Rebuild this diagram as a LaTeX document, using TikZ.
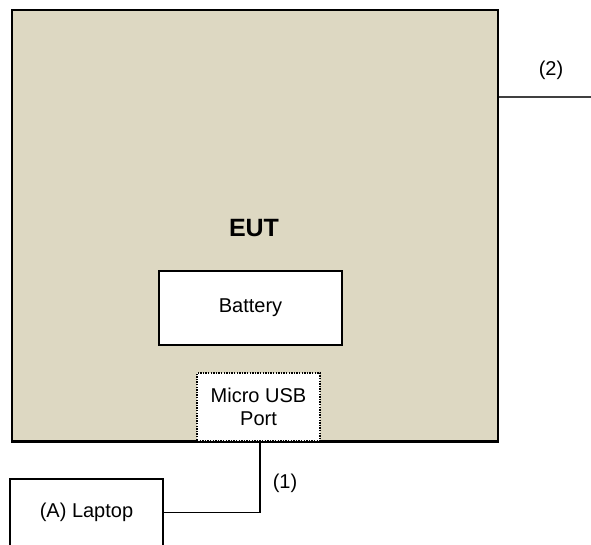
\documentclass[tikz,border=0pt]{standalone}
\usepackage{fontspec}
\setmainfont{Liberation Sans}
\usepackage{xcolor}
\usetikzlibrary{positioning, calc}

\definecolor{eutfill}{HTML}{DDD8C2}

\begin{document}
\begin{tikzpicture}[
  x=1pt, y=-1pt,
  every node/.style={font=\fontsize{20}{23}\selectfont},
  unit/.style={rectangle, draw, line width=1.8pt, fill=eutfill, inner sep=0pt},
  part/.style={rectangle, draw, line width=1.6pt, fill=white, inner sep=0pt, align=center},
  port/.style={rectangle, draw, line width=1.6pt, dash pattern=on 1.4pt off 1.2pt, fill=white, inner sep=0pt, align=center},
  cable/.style={line width=1.3pt},
]
\clip (0,0) rectangle (591,545);
\useasboundingbox (0,0) rectangle (591,545);

% EUT enclosure
\node[unit, minimum width=486pt, minimum height=431pt] (eut) at (255,225.5) {};
\node[font=\fontsize{25}{28}\selectfont\bfseries] (eutlabel) at (254,228) {EUT};

% Battery
\node[part, minimum width=183pt, minimum height=74pt] (battery) at (250.5,308) {Battery};

% Micro USB port
\node[port, minimum width=123pt, minimum height=68pt] (usb) at (258.5,407) {Micro USB\\Port};
\draw[line width=1.8pt] (eut.south west) -- (eut.south east);

% Laptop
\node[part, minimum width=153pt, minimum height=67pt] (laptop) at (86.5,512.5) {(A) Laptop};

% Cables
\draw[cable] ($(usb.south)+(1.5,0)$) |- (laptop.east);
\node (lab1) at (285,483) {(1)};

\coordinate (c2) at (591,97);
\draw[cable, draw=black!75] (eut.east |- c2) -- (c2);
\node (lab2) at (551,70) {(2)};

\end{tikzpicture}
\end{document}
